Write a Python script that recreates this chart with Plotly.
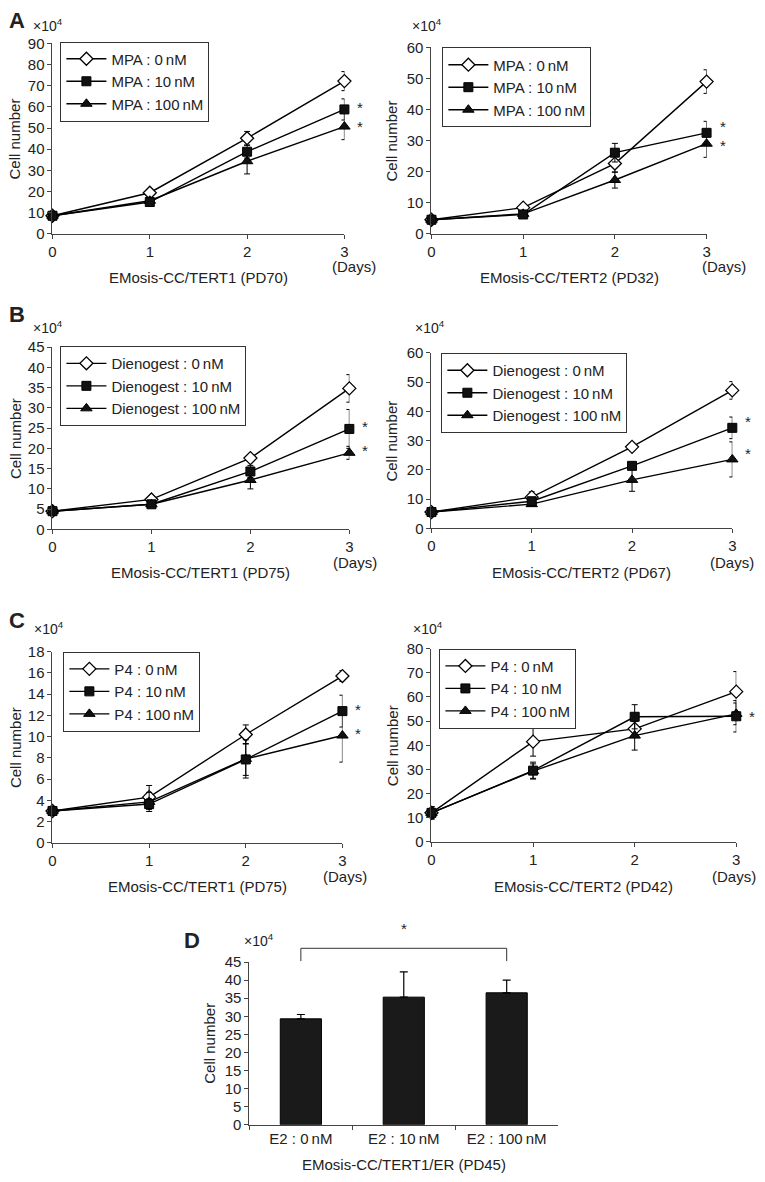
import plotly.graph_objects as go

W, H = 765, 1182
FONT = "Liberation Sans, Arial, sans-serif"

days = [0, 1, 2, 3]

# A: MPA, EMosis-CC/TERT1 (PD70)
a1_0 = [8.5, 19.4, 45.2, 72.2]
a1_0_err = [0.5, 1.0, 3.2, 4.5]
a1_10 = [8.5, 15.0, 38.8, 58.8]
a1_10_err = [0.5, 1.0, 3.0, 5.0]
a1_100 = [8.5, 15.6, 34.3, 50.7]
a1_100_err = [0.5, 1.2, 6.0, 6.2]

# A: MPA, EMosis-CC/TERT2 (PD32)
a2_0 = [4.5, 8.4, 22.6, 49.0]
a2_0_err = [0.4, 0.6, 2.8, 3.8]
a2_10 = [4.5, 6.2, 26.1, 32.5]
a2_10_err = [0.4, 0.6, 3.0, 3.7]
a2_100 = [4.5, 6.4, 17.3, 29.0]
a2_100_err = [0.4, 0.6, 2.6, 4.4]

# B: Dienogest, EMosis-CC/TERT1 (PD75)
b1_0 = [4.5, 7.4, 17.6, 34.8]
b1_0_err = [0.3, 0.4, 0.6, 3.4]
b1_10 = [4.5, 6.2, 14.3, 24.8]
b1_10_err = [0.3, 0.4, 1.5, 4.8]
b1_100 = [4.5, 6.2, 12.2, 18.9]
b1_100_err = [0.3, 0.4, 2.2, 1.6]

# B: Dienogest, EMosis-CC/TERT2 (PD67)
b2_0 = [5.6, 10.7, 27.9, 47.2]
b2_0_err = [0.4, 1.8, 0.6, 3.0]
b2_10 = [5.6, 9.3, 21.4, 34.4]
b2_10_err = [0.4, 0.8, 1.2, 3.7]
b2_100 = [5.6, 8.3, 16.6, 23.6]
b2_100_err = [0.4, 0.6, 3.9, 6.0]

# C: P4, EMosis-CC/TERT1 (PD75)
c1_0 = [3.0, 4.3, 10.2, 15.7]
c1_0_err = [0.2, 1.1, 0.9, 0.5]
c1_10 = [3.0, 3.65, 7.85, 12.4]
c1_10_err = [0.2, 0.5, 1.5, 1.5]
c1_100 = [3.0, 3.85, 7.9, 10.1]
c1_100_err = [0.2, 0.9, 1.8, 2.5]

# C: P4, EMosis-CC/TERT2 (PD42)
c2_0 = [12.0, 41.5, 46.8, 62.2]
c2_0_err = [2.5, 6.0, 3.0, 8.3]
c2_10 = [12.0, 29.5, 51.8, 52.0]
c2_10_err = [2.5, 3.5, 5.0, 6.5]
c2_100 = [12.0, 29.3, 44.0, 53.0]
c2_100_err = [2.5, 3.0, 6.0, 4.5]

# D: E2, EMosis-CC/TERT1/ER (PD45)
e2_labels = ["E2 : 0\u2009nM", "E2 : 10\u2009nM", "E2 : 100\u2009nM"]
e2_vals = [29.3, 35.3, 36.5]
e2_err = [1.2, 7.0, 3.5]


def fx(px):
    return px / W


def fy(py):
    return 1 - py / H


# x0, x1, ytop, ybottom in pixels
panels = [
    dict(drug="MPA", title="EMosis-CC/TERT1 (PD70)", box=(49, 344, 35, 228), ymax=90, dtick=10,
         s=[(a1_0, a1_0_err), (a1_10, a1_10_err), (a1_100, a1_100_err)], stars=[1, 2],
         star_shift=[2, 0], leg=(57, 33), days_xy=(354, 261), ttl_y=272, ytl_x=11, mul=(44, 16)),
    dict(drug="MPA", title="EMosis-CC/TERT2 (PD32)", box=(432, 710, 39, 228), ymax=60, dtick=10,
         s=[(a2_0, a2_0_err), (a2_10, a2_10_err), (a2_100, a2_100_err)], stars=[1, 2],
         star_shift=[6, -2], leg=(443, 39), days_xy=(728, 261), ttl_y=272, ytl_x=392, mul=(427, 16)),
    dict(drug="Dienogest", title="EMosis-CC/TERT1 (PD75)", box=(49, 349, 343, 528), ymax=45, dtick=5,
         s=[(b1_0, b1_0_err), (b1_10, b1_10_err), (b1_100, b1_100_err)], stars=[1, 2],
         star_shift=[2, 2], leg=(57, 342), days_xy=(355, 562), ttl_y=572, ytl_x=11, mul=(44, 323)),
    dict(drug="Dienogest", title="EMosis-CC/TERT2 (PD67)", box=(432, 736, 349, 527), ymax=60, dtick=10,
         s=[(b2_0, b2_0_err), (b2_10, b2_10_err), (b2_100, b2_100_err)], stars=[1, 2],
         star_shift=[6, 6], leg=(442, 349), days_xy=(736, 562), ttl_y=572, ytl_x=392, mul=(431, 323)),
    dict(drug="P4", title="EMosis-CC/TERT1 (PD75)", box=(49, 342, 652, 846), ymax=18, dtick=2,
         s=[(c1_0, c1_0_err), (c1_10, c1_10_err), (c1_100, c1_100_err)], stars=[1, 2],
         star_shift=[2, 2], leg=(60, 652), days_xy=(345, 880), ttl_y=890, ytl_x=11, mul=(45, 628)),
    dict(drug="P4", title="EMosis-CC/TERT2 (PD42)", box=(432, 740, 649, 845), ymax=80, dtick=10,
         s=[(c2_0, c2_0_err), (c2_10, c2_10_err), (c2_100, c2_100_err)], stars=[1],
         star_shift=[0], leg=(440, 649), days_xy=(738, 880), ttl_y=890, ytl_x=392, mul=(428, 628)),
]

doses = ["0\u2009nM", "10\u2009nM", "100\u2009nM"]
markers = [
    dict(symbol="diamond", size=10, color="white", line=dict(color="black", width=1.3)),
    dict(symbol="square", size=9, color="#111", line=dict(color="black", width=1)),
    dict(symbol="triangle-up", size=10, color="#111", line=dict(color="black", width=1)),
]
draw_order = [0, 2, 1]

axis_style = dict(showline=True, linecolor="#444", linewidth=1, ticks="outside", ticklen=4,
                  tickcolor="#444", tickfont=dict(family=FONT, size=15, color="#222"),
                  showgrid=False, zeroline=False)

fig = go.Figure()
layout = dict(width=W, height=H, margin=dict(l=0, r=0, t=0, b=0),
              paper_bgcolor="white", plot_bgcolor="white",
              font=dict(family=FONT, color="#222"), showlegend=True)
annotations = []
shapes = []


def text(x, y, s, size=15, **kw):
    annotations.append(dict(xref="paper", yref="paper", x=fx(x), y=fy(y), text=s, showarrow=False,
                            xanchor="center", yanchor="middle",
                            font=dict(family=FONT, size=size, color="#222"), **kw))


for i, p in enumerate(panels):
    n = i + 1
    xa = "x" if n == 1 else f"x{n}"
    ya = "y" if n == 1 else f"y{n}"
    lg = "legend" if n == 1 else f"legend{n}"
    x0, x1, yt, yb = p["box"]
    layout["xaxis" if n == 1 else f"xaxis{n}"] = dict(
        axis_style, domain=[fx(x0), fx(x1)], range=[0, 3], tickvals=days, anchor=ya)
    layout["yaxis" if n == 1 else f"yaxis{n}"] = dict(
        axis_style, domain=[fy(yb), fy(yt)], range=[0, p["ymax"]], dtick=p["dtick"], anchor=xa)
    for k in draw_order:
        vals, err = p["s"][k]
        fig.add_trace(go.Scatter(
            x=days, y=vals, xaxis=xa, yaxis=ya, mode="lines+markers",
            name=f"{p['drug']} : {doses[k]}", legend=lg, legendrank=k,
            line=dict(color="black", width=1.4), marker=markers[k], cliponaxis=False,
            error_y=dict(type="data", array=err, color="black", thickness=1, width=3)))
    layout[lg] = dict(x=fx(p["leg"][0]), y=fy(p["leg"][1]), xanchor="left", yanchor="top",
                      bgcolor="white", bordercolor="#333", borderwidth=1,
                      font=dict(family=FONT, size=15, color="#222"), tracegroupgap=0,
                      traceorder="normal", itemclick=False, itemwidth=40)
    for k, sh in zip(p["stars"], p["star_shift"]):
        annotations.append(dict(xref=xa, yref=ya, x=3, y=p["s"][k][0][3], text="*", showarrow=False,
                                xshift=16, yshift=sh, font=dict(family=FONT, size=15, color="#222")))
    text((x0 + x1) / 2, p["ttl_y"], p["title"])
    text(p["days_xy"][0], p["days_xy"][1], "(Days)")
    text(p["ytl_x"], (yt + yb) / 2, "Cell number", textangle=-90)
    text(p["mul"][0], p["mul"][1], "\u00d710<sup>4</sup>", size=14)

# panel D bars
layout["xaxis7"] = dict(axis_style, domain=[fx(248), fx(560)], range=[-0.5, 2.5], anchor="y7",
                        tickson="boundaries", type="category")
layout["yaxis7"] = dict(axis_style, domain=[fy(1132), fy(967)], range=[0, 45], dtick=5, anchor="x7")
fig.add_trace(go.Bar(x=e2_labels, y=e2_vals, xaxis="x7", yaxis="y7", width=0.4, showlegend=False,
                     marker=dict(color="#1a1a1a", line=dict(color="black", width=1)),
                     error_y=dict(type="data", symmetric=False, array=e2_err, arrayminus=[0, 0, 0],
                                  color="black", thickness=1.2, width=4)))
shapes.append(dict(type="path", xref="x7", yref="paper",
                   path=f"M 0,{fy(966)} L 0,{fy(953)} L 2,{fy(953)} L 2,{fy(966)}",
                   line=dict(color="#333", width=1)))
annotations.append(dict(xref="x7", yref="paper", x=1, y=fy(944), text="*", showarrow=False,
                        font=dict(family=FONT, size=15, color="#222")))
text(404, 1172, "EMosis-CC/TERT1/ER (PD45)")
text(208, 1049, "Cell number", textangle=-90)
text(258, 945, "\u00d710<sup>4</sup>", size=14)

# panel letters
for letter, (x, y) in zip("ABCD", [(13, 12), (13, 310), (13, 620), (190, 945)]):
    text(x, y, f"<b>{letter}</b>", size=22)

layout["annotations"] = annotations
layout["shapes"] = shapes
fig.update_layout(**layout)
# the page body has a default 8px margin; drop it so the figure fills the window
fig.write_html("out.html", config={"displayModeBar": False},
               post_script="document.body.style.margin='0';")
